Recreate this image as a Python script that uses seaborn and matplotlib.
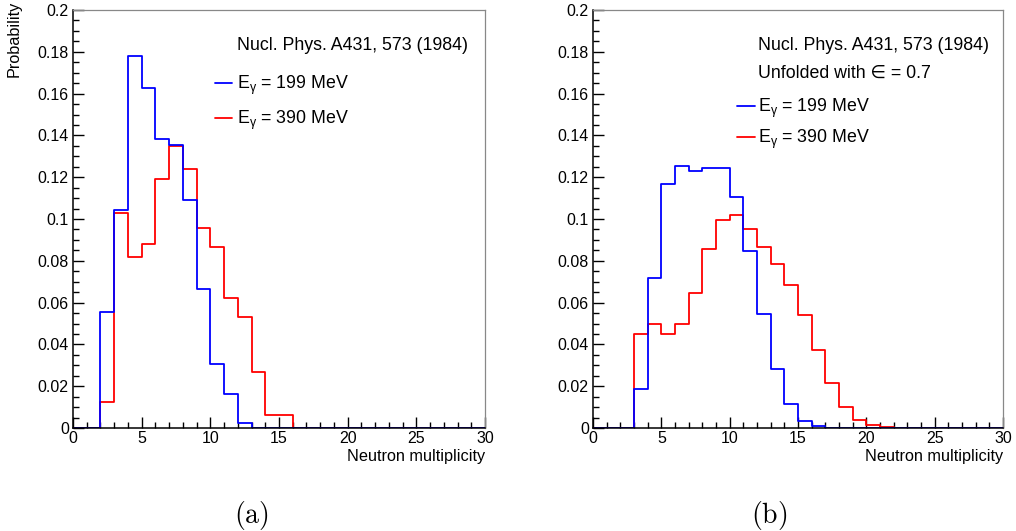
import numpy as np
import pandas as pd
import matplotlib
matplotlib.use("Agg")
import matplotlib.pyplot as plt
import seaborn as sns
from matplotlib.ticker import MultipleLocator, FuncFormatter

# ---------------- data ----------------
n_bins = 30
x_range = (0, 30)
bin_centers = np.arange(0, 30) + 0.5

# (a) measured distributions
a_199 = [0, 0, 0.0553, 0.1045, 0.1780, 0.1628, 0.1383, 0.1354, 0.1090, 0.0667,
         0.0308, 0.0163, 0.0025, 0, 0, 0, 0, 0, 0, 0,
         0, 0, 0, 0, 0, 0, 0, 0, 0, 0]
a_390 = [0, 0, 0.0123, 0.1027, 0.0820, 0.0882, 0.1190, 0.1350, 0.1240, 0.0956,
         0.0868, 0.0621, 0.0530, 0.0267, 0.0063, 0.0062, 0, 0, 0, 0,
         0, 0, 0, 0, 0, 0, 0, 0, 0, 0]
# (b) unfolded distributions
b_199 = [0, 0, 0, 0.0187, 0.0720, 0.1167, 0.1255, 0.1231, 0.1246, 0.1243,
         0.1107, 0.0847, 0.0544, 0.0284, 0.0117, 0.0035, 0.0008, 0.0002, 0, 0,
         0, 0, 0, 0, 0, 0, 0, 0, 0, 0]
b_390 = [0, 0, 0, 0.0450, 0.0497, 0.0451, 0.0497, 0.0648, 0.0855, 0.0996,
         0.1017, 0.0953, 0.0866, 0.0785, 0.0685, 0.0542, 0.0374, 0.0217, 0.0102, 0.0040,
         0.0014, 0.0005, 0, 0, 0, 0, 0, 0, 0, 0]

series_labels = [r"E$_{\mathrm{\gamma}}$ = 199 MeV", r"E$_{\mathrm{\gamma}}$ = 390 MeV"]
ref_text = "Nucl. Phys. A431, 573 (1984)"
unfold_text = "Unfolded with \u2208 = 0.7"
x_label = "Neutron multiplicity"
y_label = "Probability"

# ---------------- style ----------------
sns.set_theme(style="ticks")
plt.rcParams["font.family"] = ["Liberation Sans", "DejaVu Sans"]
plt.rcParams["mathtext.fontset"] = "custom"
plt.rcParams["mathtext.rm"] = "Liberation Sans"
plt.rcParams["mathtext.it"] = "Liberation Sans:italic"
plt.rcParams["mathtext.bf"] = "Liberation Sans:bold"
plt.rcParams["text.color"] = "black"
plt.rcParams["axes.labelcolor"] = "black"
plt.rcParams["xtick.color"] = "black"
plt.rcParams["ytick.color"] = "black"

BLUE = "#0000ff"
RED = "#ff0000"
LEG_FS = 12.8
TICK_FS = 11.5
LAB_FS = 11.7

fig = plt.figure(figsize=(10.16, 5.31), dpi=100)
ax_a = fig.add_axes([73 / 1016, 1 - 428 / 531, 412 / 1016, 418 / 531])
ax_b = fig.add_axes([593 / 1016, 1 - 428 / 531, 410 / 1016, 418 / 531])


def draw(ax, v199, v390):
    df = pd.DataFrame({"x": bin_centers, "p199": v199, "p390": v390})
    sns.histplot(data=df, x="x", weights="p390", bins=n_bins, binrange=x_range,
                 element="step", fill=False, color=RED, linewidth=1.3, ax=ax)
    red_line = ax.lines[-1]
    sns.histplot(data=df, x="x", weights="p199", bins=n_bins, binrange=x_range,
                 element="step", fill=False, color=BLUE, linewidth=1.3, ax=ax)
    blue_line = ax.lines[-1]
    ax.set_xlim(0, 30)
    ax.set_ylim(0, 0.2)
    ax.xaxis.set_major_locator(MultipleLocator(5))
    ax.xaxis.set_minor_locator(MultipleLocator(1))
    ax.yaxis.set_major_locator(MultipleLocator(0.02))
    ax.yaxis.set_minor_locator(MultipleLocator(0.005))
    ax.yaxis.set_major_formatter(FuncFormatter(lambda v, p: "%g" % round(v, 4)))
    ax.tick_params(which="both", direction="in", top=False, right=False,
                   colors="black", labelsize=TICK_FS, width=1.0)
    ax.tick_params(which="major", length=8)
    ax.tick_params(axis="y", which="major", pad=3)
    ax.tick_params(axis="x", which="major", pad=2.5)
    ax.tick_params(which="minor", length=4.5)
    for s in ["left", "bottom"]:
        ax.spines[s].set_color("black")
        ax.spines[s].set_linewidth(1.1)
    for s in ["top", "right"]:
        ax.spines[s].set_visible(True)
        ax.spines[s].set_color("#888888")
        ax.spines[s].set_linewidth(0.9)
    ax.set_xlabel(x_label, fontsize=LAB_FS, loc="right")
    ax.xaxis.set_label_coords(1.0, -0.05)
    ax.set_ylabel("")
    ax.set_facecolor("white")
    return blue_line, red_line


bl, rl = draw(ax_a, a_199, a_390)
ax_a.set_ylabel(y_label, fontsize=LAB_FS)
ax_a.yaxis.set_label_coords(-0.124, 0.932)
ax_a.text(0.398, 0.916, ref_text, transform=ax_a.transAxes, fontsize=LEG_FS,
          ha="left", va="center")
ax_a.legend([bl, rl], series_labels, loc="upper left", bbox_to_anchor=(0.345, 0.848),
            frameon=False, fontsize=LEG_FS, handlelength=0.95, handletextpad=0.28,
            labelspacing=0.7, borderpad=0, borderaxespad=0)

bl, rl = draw(ax_b, b_199, b_390)
ax_b.text(0.402, 0.916, ref_text, transform=ax_b.transAxes, fontsize=LEG_FS,
          ha="left", va="center")
ax_b.text(0.402, 0.849, unfold_text, transform=ax_b.transAxes, fontsize=LEG_FS,
          ha="left", va="center")
ax_b.legend([bl, rl], series_labels, loc="upper left", bbox_to_anchor=(0.351, 0.793),
            frameon=False, fontsize=LEG_FS, handlelength=1.0, handletextpad=0.2,
            labelspacing=0.45, borderpad=0, borderaxespad=0)

fig.text(251.7 / 1016, 1 - 515 / 531, r"$\mathrm{(a)}$", math_fontfamily="cm",
         fontsize=20, ha="center", va="center")
fig.text(769 / 1016, 1 - 515 / 531, r"$\mathrm{(b)}$", math_fontfamily="cm",
         fontsize=20, ha="center", va="center")

fig.savefig("out.png", dpi=100, facecolor="white")
